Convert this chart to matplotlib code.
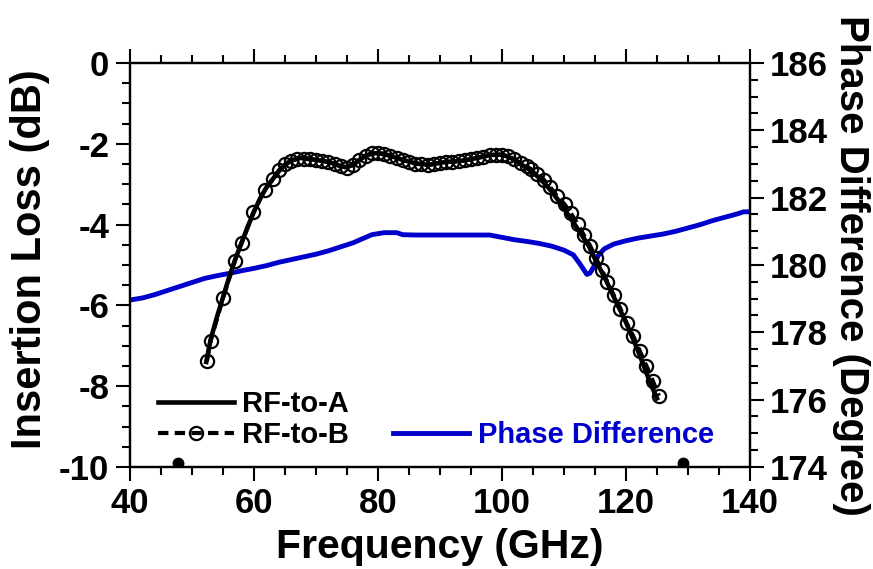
import matplotlib
matplotlib.use('Agg')
import matplotlib.pyplot as plt
from matplotlib.ticker import MultipleLocator

plt.rcParams['font.family'] = ['Liberation Sans', 'DejaVu Sans']
plt.rcParams['font.weight'] = 'bold'
plt.rcParams['axes.unicode_minus'] = False

# RF-to-A insertion loss (solid)
freq_a = [52.3, 53.0, 54.0, 55.0, 56.0, 57.0, 58.0, 59.0, 60.0, 61.0, 62.0, 63.0, 64.0,
          65.0, 66.0, 67.0, 68.0, 69.0, 70.0, 71.0, 72.0, 73.0, 74.0, 75.0, 76.0, 77.0,
          78.0, 79.0, 80.0, 81.0, 82.0, 83.0, 84.0, 85.0, 86.0, 87.0, 88.0, 89.0, 90.0,
          91.0, 92.0, 93.0, 94.0, 95.0, 96.0, 97.0, 98.0, 99.0, 100.0, 101.0, 102.0,
          103.0, 104.0, 105.0, 106.0, 107.0, 108.0, 109.0, 110.0, 111.0, 112.0, 113.0,
          114.0, 115.0, 116.0, 117.0, 118.0, 119.0, 120.0, 121.0, 122.0, 123.0, 124.0, 125.0]
loss_a = [-7.40, -6.85, -6.30, -5.80, -5.30, -4.85, -4.45, -4.05, -3.68, -3.35, -3.08, -2.88,
          -2.68, -2.52, -2.42, -2.36, -2.35, -2.37, -2.40, -2.42, -2.45, -2.50, -2.56, -2.58,
          -2.52, -2.40, -2.30, -2.24, -2.23, -2.26, -2.30, -2.35, -2.40, -2.44, -2.48, -2.50,
          -2.52, -2.50, -2.47, -2.45, -2.44, -2.43, -2.41, -2.38, -2.35, -2.31, -2.28, -2.27,
          -2.27, -2.32, -2.40, -2.50, -2.60, -2.70, -2.85, -3.00, -3.18, -3.38, -3.60, -3.83,
          -4.06, -4.29, -4.53, -4.85, -5.15, -5.45, -5.78, -6.10, -6.42, -6.78, -7.15, -7.55,
          -7.95, -8.30]

# RF-to-B insertion loss (dashed + circles)
freq_b = [52.4, 53.0, 55.0, 56.9, 58.0, 59.9, 61.7, 63.0, 64.0, 65.0, 66.0, 67.0, 68.0,
          69.0, 70.0, 71.0, 72.0, 73.0, 74.0, 75.0, 76.0, 77.0, 78.0, 79.0, 80.0, 81.0,
          82.0, 83.0, 84.0, 85.0, 86.0, 87.0, 88.0, 89.0, 90.0, 91.0, 92.0, 93.0, 94.0,
          95.0, 96.0, 97.0, 98.0, 99.0, 100.0, 101.0, 102.0, 103.0, 104.0, 104.6, 105.7,
          106.8, 107.8, 108.9, 110.1, 111.1, 112.2, 113.2, 114.2, 115.1, 116.1, 117.0,
          118.0, 119.1, 120.1, 121.2, 122.2, 123.3, 124.3, 125.3]
loss_b = [-7.38, -6.88, -5.82, -4.90, -4.45, -3.70, -3.15, -2.88, -2.66, -2.50, -2.42,
          -2.37, -2.38, -2.38, -2.39, -2.42, -2.45, -2.49, -2.55, -2.60, -2.52, -2.40,
          -2.30, -2.24, -2.22, -2.25, -2.29, -2.34, -2.40, -2.45, -2.49, -2.51, -2.53,
          -2.50, -2.47, -2.45, -2.44, -2.43, -2.41, -2.38, -2.35, -2.32, -2.28, -2.27,
          -2.27, -2.30, -2.38, -2.48, -2.56, -2.62, -2.74, -2.90, -3.08, -3.30, -3.50,
          -3.72, -3.98, -4.26, -4.52, -4.82, -5.12, -5.42, -5.74, -6.08, -6.44, -6.77,
          -7.12, -7.50, -7.86, -8.24]

# stray clipped marks at the bottom edge
stray_f = [47.7, 129.2]
stray_loss = [-9.9, -9.9]

# phase difference (right axis)
freq_p = [40.0, 42.0, 44.0, 46.0, 48.0, 50.0, 52.0, 54.0, 56.0, 58.0, 60.0, 62.0, 64.0,
          66.0, 68.0, 70.0, 72.0, 74.0, 76.0, 77.5, 79.0, 81.0, 83.0, 84.0, 86.0, 90.0,
          95.0, 98.0, 100.0, 102.0, 104.0, 106.0, 108.0, 110.0, 111.5, 112.5, 113.7, 114.2,
          114.8, 115.5, 116.5, 118.0, 120.0, 122.0, 124.0, 126.0, 128.0, 130.0, 132.0,
          134.0, 136.0, 138.0, 139.0, 140.0]
phase = [178.96, 179.02, 179.12, 179.24, 179.36, 179.48, 179.60, 179.68, 179.75, 179.83,
         179.90, 179.98, 180.08, 180.16, 180.24, 180.32, 180.42, 180.54, 180.66, 180.78,
         180.90, 180.96, 180.96, 180.90, 180.89, 180.89, 180.89, 180.89, 180.82, 180.75,
         180.70, 180.64, 180.56, 180.44, 180.30, 180.05, 179.72, 179.76, 179.95, 180.28,
         180.48, 180.62, 180.72, 180.80, 180.86, 180.92, 181.00, 181.10, 181.20, 181.32,
         181.42, 181.52, 181.58, 181.58]

blue = '#0000CC'

fig = plt.figure(figsize=(8.73, 5.69), dpi=100)
ax = fig.add_axes([0.1489, 0.1793, 0.7102, 0.7100])
ax2 = ax.twinx()

line_a, = ax.plot(freq_a, loss_a, color='black', lw=3.3, label='RF-to-A')
line_b, = ax.plot(freq_b, loss_b, color='black', lw=3.0, ls=(0, (2.5, 1.5)),
                  marker='o', ms=9.5, mfc='none', mec='black', mew=1.6, label='RF-to-B')
ax.plot(stray_f, stray_loss, ls='none', marker='o', ms=7, mfc='black', mec='black', mew=1.5)
line_p, = ax2.plot(freq_p, phase, color=blue, lw=3.5, label='Phase Difference')

# black curves on top of the blue one
ax.set_zorder(ax2.get_zorder() + 1)
ax.patch.set_visible(False)

ax.set_xlim(40, 140)
ax.set_ylim(-10, 0)
ax2.set_ylim(174, 186)

ax.xaxis.set_major_locator(MultipleLocator(20))
ax.xaxis.set_minor_locator(MultipleLocator(5))
ax.yaxis.set_major_locator(MultipleLocator(2))
ax.yaxis.set_minor_locator(MultipleLocator(0.5))
ax2.yaxis.set_major_locator(MultipleLocator(2))
ax2.yaxis.set_minor_locator(MultipleLocator(0.5))

for a in (ax, ax2):
    for s in a.spines.values():
        s.set_linewidth(1.6)
ax.tick_params(which='both', direction='out', top=True, width=1.5, labelsize=25)
ax.tick_params(which='major', length=10)
ax.tick_params(which='minor', length=5.5)
ax.tick_params(axis='x', pad=4.5)
ax.tick_params(axis='y', pad=5)
ax2.tick_params(which='both', direction='out', width=1.5, labelsize=25, pad=4)
ax2.tick_params(which='major', length=10)
ax2.tick_params(which='minor', length=5.5)

ax.set_xlabel('Frequency (GHz)', fontsize=29.5, fontweight='bold', va='center')
ax.set_ylabel('Insertion Loss (dB)', fontsize=30, fontweight='bold', va='center')
ax2.set_ylabel('Phase Difference (Degree)', fontsize=29, fontweight='bold',
               rotation=-90, va='center', ha='center')
ax.xaxis.set_label_coords(0.5, -0.197)
ax.yaxis.set_label_coords(-0.162, 0.514)
ax2.yaxis.set_label_coords(1.163, 0.5)

leg1 = ax.legend(handles=[line_a, line_b], loc='lower left', bbox_to_anchor=(0.045, 0.045),
                 frameon=False, fontsize=21, handlelength=2.6, handletextpad=0.3,
                 labelspacing=0.08, borderpad=0, borderaxespad=0)
ax.add_artist(leg1)
leg2 = ax.legend(handles=[line_p], loc='lower left', bbox_to_anchor=(0.425, 0.045),
                 frameon=False, fontsize=21, handlelength=2.6, handletextpad=0.3,
                 borderpad=0, borderaxespad=0)
for t in leg2.get_texts():
    t.set_color(blue)

fig.savefig('out.png', dpi=100)
